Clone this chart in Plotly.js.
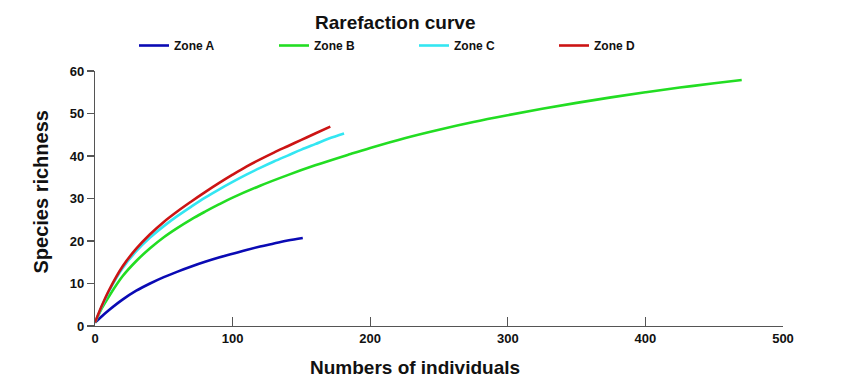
<!DOCTYPE html>
<html><head><meta charset="utf-8">
<script src="https://cdn.plot.ly/plotly-3.0.1.min.js"></script>
<style>body{margin:0;background:#fff}#chart{width:850px;height:391px}</style>
</head><body><div id="chart"></div>
<script>
const seriesNames = ["Zone A", "Zone B", "Zone C", "Zone D"];
const colors = ["#0a0ab4", "#22dd22", "#33e6f2", "#cc1414"];
const xTicks = [0, 100, 200, 300, 400, 500];
const yTicks = [0, 10, 20, 30, 40, 50, 60];

const zoneA_x = [0, 5, 10, 20, 30, 40, 50, 60, 70, 80, 90, 100, 110, 120, 130, 140, 151];
const zoneA_y = [0.8, 2.3, 3.7, 6.2, 8.3, 10.0, 11.5, 12.8, 14.0, 15.1, 16.1, 17.0, 17.9, 18.7, 19.4, 20.1, 20.7];

const zoneB_x = [0, 5, 10, 20, 30, 40, 50, 60, 70, 80, 90, 100, 120, 140, 160, 185, 200, 225, 250, 275, 300, 325, 350, 375, 400, 425, 450, 470];
const zoneB_y = [0.8, 4.2, 6.9, 11.7, 15.3, 18.3, 20.9, 23.1, 25.1, 26.9, 28.6, 30.2, 33.0, 35.5, 37.8, 40.4, 41.9, 44.2, 46.2, 48.0, 49.6, 51.1, 52.5, 53.8, 55.0, 56.1, 57.1, 57.9];

const zoneC_x = [0, 5, 10, 20, 30, 40, 50, 60, 70, 80, 90, 100, 110, 120, 130, 140, 150, 160, 170, 181];
const zoneC_y = [0.8, 4.6, 8.1, 13.6, 17.6, 20.8, 23.5, 25.9, 28.1, 30.2, 32.1, 33.9, 35.6, 37.2, 38.7, 40.1, 41.5, 42.8, 44.1, 45.3];

const zoneD_x = [0, 5, 10, 20, 30, 40, 50, 60, 70, 80, 90, 100, 110, 120, 130, 140, 150, 160, 171];
const zoneD_y = [0.8, 4.8, 8.3, 14.0, 18.2, 21.6, 24.5, 27.0, 29.3, 31.5, 33.6, 35.6, 37.5, 39.2, 40.8, 42.3, 43.8, 45.3, 46.9];

const xs = [zoneA_x, zoneB_x, zoneC_x, zoneD_x];
const ys = [zoneA_y, zoneB_y, zoneC_y, zoneD_y];

const FONT = "'Liberation Sans', Arial, sans-serif";

const traces = seriesNames.map((n, i) => ({
  x: xs[i], y: ys[i], name: n, type: "scatter", mode: "lines",
  line: {color: colors[i], width: 2.6, shape: "spline", smoothing: 1}
}));

const axisCommon = {
  showgrid: false, zeroline: false, showline: true, linecolor: "#555", linewidth: 1.2,
  tickcolor: "#555", tickwidth: 1.2,
  tickfont: {family: FONT, size: 13, color: "#111", weight: "bold"}
};

const layout = {
  width: 850, height: 391,
  margin: {l: 95, r: 67, t: 71, b: 65},
  paper_bgcolor: "#fff", plot_bgcolor: "#fff",
  title: {text: "Rarefaction curve", x: 0.465, xanchor: "center", y: 0.944, yanchor: "middle",
    font: {family: FONT, size: 19, color: "#111", weight: "bold"}},
  showlegend: true,
  legend: {orientation: "h", x: 0.0567, xanchor: "left", y: 1.1, yanchor: "middle",
    entrywidth: 95, entrywidthmode: "pixels", itemwidth: 30,
    font: {family: FONT, size: 12, color: "#111", weight: "bold"}},
  xaxis: Object.assign({}, axisCommon, {
    range: [0, 500], tickvals: xTicks, ticks: "inside", ticklen: 9
  }),
  yaxis: Object.assign({}, axisCommon, {
    range: [0, 60], tickvals: yTicks, ticks: "outside", ticklen: 7
  }),
  annotations: [
    {text: "Numbers of individuals", xref: "paper", yref: "paper",
     x: (415 - 95) / 688, y: -(367 - 326) / 255, xanchor: "center", yanchor: "middle", showarrow: false,
     font: {family: FONT, size: 19, color: "#111", weight: "bold"}},
    {text: "Species richness", xref: "paper", yref: "paper", textangle: -90,
     x: -(95 - 40.5) / 688, y: (326 - 192) / 255, xanchor: "center", yanchor: "middle", showarrow: false,
     font: {family: FONT, size: 20, color: "#111", weight: "bold"}}
  ]
};

Plotly.newPlot("chart", traces, layout, {displayModeBar: false, staticPlot: true});
</script></body></html>
